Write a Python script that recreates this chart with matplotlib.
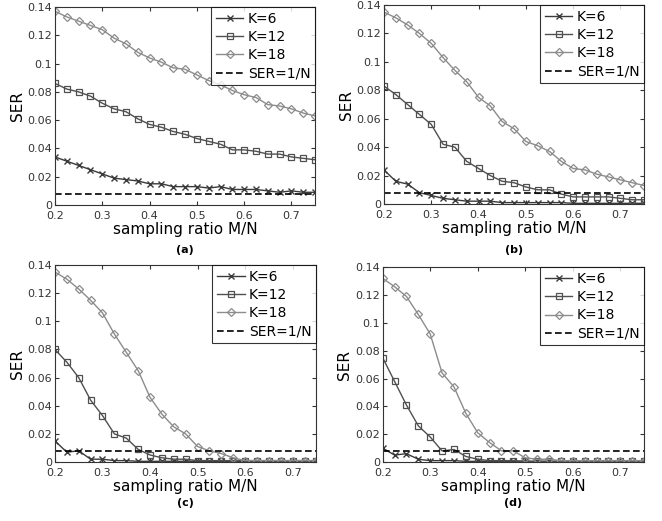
import numpy as np
import matplotlib
matplotlib.use("Agg")
import matplotlib.pyplot as plt

# sampling ratio M/N
ratio = np.arange(23) * 0.025 + 0.2
ser_ref = 0.008

# (a)
a_k6 = [0.034, 0.031, 0.028, 0.025, 0.022, 0.019, 0.018, 0.017, 0.015, 0.015, 0.013, 0.013,
        0.013, 0.012, 0.013, 0.011, 0.011, 0.011, 0.010, 0.009, 0.010, 0.009, 0.009]
a_k12 = [0.086, 0.082, 0.080, 0.077, 0.072, 0.068, 0.066, 0.061, 0.057, 0.055, 0.052, 0.050,
         0.047, 0.045, 0.043, 0.039, 0.039, 0.038, 0.036, 0.036, 0.034, 0.033, 0.032]
a_k18 = [0.137, 0.133, 0.130, 0.127, 0.124, 0.118, 0.114, 0.108, 0.104, 0.101, 0.097, 0.096,
         0.092, 0.088, 0.085, 0.081, 0.078, 0.076, 0.071, 0.070, 0.068, 0.065, 0.063]

# (b)
b_k6 = [0.024, 0.016, 0.014, 0.008, 0.006, 0.004, 0.003, 0.002, 0.002, 0.002, 0.001, 0.001,
        0.001, 0.001, 0.001, 0.001, 0.0005, 0.0005, 0.0005, 0.0005, 0.0005, 0.0005, 0.0005]
b_k12 = [0.083, 0.077, 0.070, 0.063, 0.056, 0.042, 0.040, 0.030, 0.025, 0.020, 0.016, 0.015,
         0.012, 0.010, 0.010, 0.007, 0.005, 0.005, 0.005, 0.005, 0.004, 0.003, 0.003]
b_k18 = [0.135, 0.131, 0.126, 0.120, 0.113, 0.103, 0.094, 0.086, 0.075, 0.069, 0.058, 0.053,
         0.044, 0.041, 0.037, 0.030, 0.025, 0.024, 0.021, 0.019, 0.017, 0.015, 0.013]

# (c)
c_k6 = [0.015, 0.007, 0.008, 0.002, 0.002, 0.001, 0.001, 0.0005, 0.0005, 0.0005, 0.0005, 0.0005,
        0.0005, 0.0005, 0.0005, 0.0005, 0.0005, 0.0005, 0.0005, 0.0005, 0.0005, 0.0005, 0.0005]
c_k12 = [0.080, 0.071, 0.060, 0.044, 0.033, 0.020, 0.017, 0.009, 0.005, 0.003, 0.002, 0.002,
         0.001, 0.001, 0.001, 0.001, 0.001, 0.001, 0.001, 0.001, 0.001, 0.001, 0.001]
c_k18 = [0.135, 0.130, 0.123, 0.115, 0.106, 0.091, 0.078, 0.065, 0.046, 0.034, 0.025, 0.020,
         0.011, 0.008, 0.006, 0.003, 0.001, 0.001, 0.001, 0.001, 0.001, 0.001, 0.001]

# (d)
d_k6 = [0.010, 0.005, 0.006, 0.002, 0.001, 0.001, 0.001, 0.0005, 0.0005, 0.0005, 0.0005, 0.0005,
        0.0005, 0.0005, 0.0005, 0.0005, 0.0005, 0.0005, 0.0005, 0.0005, 0.0005, 0.0005, 0.0005]
d_k12 = [0.075, 0.058, 0.041, 0.026, 0.018, 0.008, 0.009, 0.004, 0.002, 0.001, 0.001, 0.001,
         0.0005, 0.0005, 0.0005, 0.0005, 0.0005, 0.0005, 0.0005, 0.0005, 0.0005, 0.0005, 0.0005]
d_k18 = [0.132, 0.126, 0.119, 0.106, 0.092, 0.064, 0.054, 0.035, 0.021, 0.014, 0.008, 0.008,
         0.003, 0.002, 0.002, 0.001, 0.001, 0.001, 0.001, 0.001, 0.001, 0.001, 0.001]

panels = [
    ("(a)", a_k6, a_k12, a_k18, [0.083, 0.6065, 0.393, 0.380], 0.52),
    ("(b)", b_k6, b_k12, b_k18, [0.580, 0.6084, 0.393, 0.382], 0.52),
    ("(c)", c_k6, c_k12, c_k18, [0.083, 0.1132, 0.395, 0.378], 0.035),
    ("(d)", d_k6, d_k12, d_k18, [0.578, 0.1132, 0.395, 0.374], 0.035),
]

fig = plt.figure(figsize=(6.62, 5.21), dpi=100)
fig.patch.set_facecolor("white")

for tag, k6, k12, k18, pos, tag_y in panels:
    ax = fig.add_axes(pos)
    ax.plot(ratio, k6, color="#3a3a3a", lw=1.0, marker="x", ms=5, mew=1.0, label="K=6")
    ax.plot(ratio, k12, color="#505050", lw=1.0, marker="s", ms=5, mfc="none", mew=0.9, label="K=12")
    ax.plot(ratio, k18, color="#8c8c8c", lw=1.0, marker="D", ms=4.5, mfc="none", mew=0.9, label="K=18")
    ax.plot(ratio, [ser_ref] * len(ratio), color="black", lw=1.2, ls=(0, (4, 2)), label="SER=1/N")
    ax.set_xlim(0.2, 0.75)
    ax.set_ylim(0, 0.14)
    ax.set_xticks([0.2, 0.3, 0.4, 0.5, 0.6, 0.7])
    ax.set_xticklabels(["0.2", "0.3", "0.4", "0.5", "0.6", "0.7"])
    ax.set_yticks([0, 0.02, 0.04, 0.06, 0.08, 0.1, 0.12, 0.14])
    ax.set_yticklabels(["0", "0.02", "0.04", "0.06", "0.08", "0.1", "0.12", "0.14"])
    ax.tick_params(direction="in", length=3, labelsize=8, colors="#333333", top=True, right=True)
    ax.tick_params(axis="x", pad=4)
    ax.tick_params(axis="y", pad=2)
    for s in ax.spines.values():
        s.set_color("#333333")
        s.set_linewidth(0.8)
    ax.set_ylabel("SER", fontsize=11, labelpad=2)
    ax.set_xlabel("sampling ratio M/N", fontsize=11, labelpad=1)
    leg = ax.legend(loc="upper right", fontsize=10, frameon=True, fancybox=False,
                    edgecolor="black", borderaxespad=0.0, handlelength=2.0,
                    handletextpad=0.3, labelspacing=0.3, borderpad=0.35)
    leg.get_frame().set_linewidth(0.8)
    fig.text(pos[0] + pos[2] / 2, tag_y, tag, ha="center", va="center",
             fontsize=8, fontweight="bold")

fig.savefig("out.png", dpi=100)
